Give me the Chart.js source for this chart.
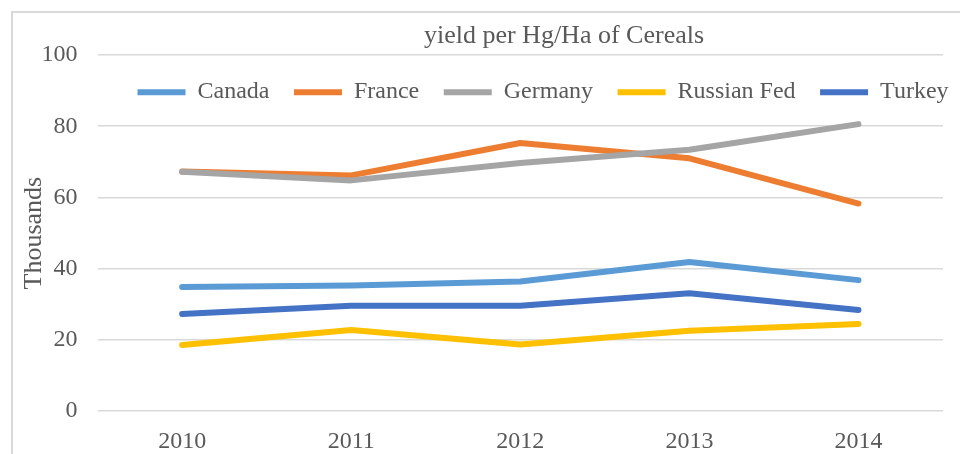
<!DOCTYPE html>
<html>
<head>
<meta charset="utf-8">
<script src="https://cdn.jsdelivr.net/npm/chart.js@4.4.1/dist/chart.umd.min.js"></script>
<style>
  html, body { margin: 0; padding: 0; background: #fff; overflow: hidden; }
  body { width: 960px; height: 454px; position: relative; }
  #frame { position: absolute; left: 11px; top: 11px; width: 1000px; height: 500px; border: 2px solid #d9d9d9; }
  #main-wrap { position: absolute; left: 0; top: 0; width: 960px; height: 472px; }
  #head-wrap { position: absolute; left: 113px; top: 0; width: 902px; height: 130px; }
</style>
</head>
<body>
<div id="frame"></div>
<div id="main-wrap"><canvas id="mainChart"></canvas></div>
<div id="head-wrap"><canvas id="headChart"></canvas></div>
<script>
const years = ['2010', '2011', '2012', '2013', '2014'];
const seriesNames = ['Canada', 'France', 'Germany', 'Russian Fed', 'Turkey'];
const canada = [34.9, 35.3, 36.4, 41.9, 36.8];
const france = [67.3, 66.2, 75.3, 71.0, 58.3];
const germany = [67.2, 64.8, 69.7, 73.4, 80.6];
const russia = [18.6, 22.8, 18.7, 22.6, 24.5];
const turkey = [27.3, 29.6, 29.6, 33.1, 28.4];
const yTicks = [0, 20, 40, 60, 80, 100];

const colors = ['#5B9BD5', '#ED7D31', '#A5A5A5', '#FFC000', '#4472C4'];
const values = [canada, france, germany, russia, turkey];
const serif = '"Liberation Serif", "Times New Roman", serif';
const textColor = '#595959';

function makeDatasets(withData) {
    return seriesNames.map((name, i) => ({
        label: name,
        data: withData ? values[i] : [],
        borderColor: colors[i],
        backgroundColor: colors[i],
        borderWidth: 6,
        borderCapStyle: 'round',
        borderJoinStyle: 'round',
        pointRadius: 0,
        pointHoverRadius: 0,
        tension: 0,
        fill: false,
        // excel paints later series on top
        order: withData ? seriesNames.length - i : 0,
    }));
}

new Chart(document.getElementById('mainChart'), {
    type: 'line',
    data: { labels: years, datasets: makeDatasets(true) },
    options: {
        responsive: true,
        maintainAspectRatio: false,
        animation: false,
        layout: { padding: { left: 26, right: 17, top: 55, bottom: 0 } },
        plugins: { legend: { display: false }, title: { display: false }, tooltip: { enabled: false } },
        scales: {
            x: {
                offset: true,
                grid: { display: false, drawTicks: false },
                border: { display: false },
                ticks: { color: textColor, padding: 16, font: { family: serif, size: 24 } },
            },
            y: {
                min: 0,
                max: 100,
                afterBuildTicks: s => { s.ticks = yTicks.map(v => ({ value: v })); },
                grid: { color: '#d9d9d9', lineWidth: 1.5, drawTicks: false },
                border: { display: false },
                ticks: { color: textColor, padding: 20, font: { family: serif, size: 24 } },
                title: {
                    display: true,
                    text: 'Thousands',
                    color: textColor,
                    padding: { top: 0, bottom: -20 },
                    font: { family: serif, size: 26, lineHeight: 0.6 },
                },
            },
        },
    },
});

// title + legend sit on a second, transparent chart laid over the plot
new Chart(document.getElementById('headChart'), {
    type: 'line',
    data: { labels: years, datasets: makeDatasets(false) },
    options: {
        responsive: true,
        maintainAspectRatio: false,
        animation: false,
        events: [],
        layout: { padding: 0 },
        scales: { x: { display: false }, y: { display: false } },
        plugins: {
            tooltip: { enabled: false },
            title: {
                display: true,
                text: 'yield per Hg/Ha of Cereals',
                color: textColor,
                font: { family: serif, size: 26, weight: 'normal', lineHeight: 1.2 },
                padding: { top: 20.6, bottom: 3.9 },
            },
            legend: {
                display: true,
                position: 'top',
                align: 'start',
                labels: {
                    color: textColor,
                    font: { family: serif, size: 24 },
                    usePointStyle: true,
                    pointStyle: 'line',
                    pointStyleWidth: 48,
                    padding: 24.5,
                },
            },
        },
    },
});
</script>
</body>
</html>
